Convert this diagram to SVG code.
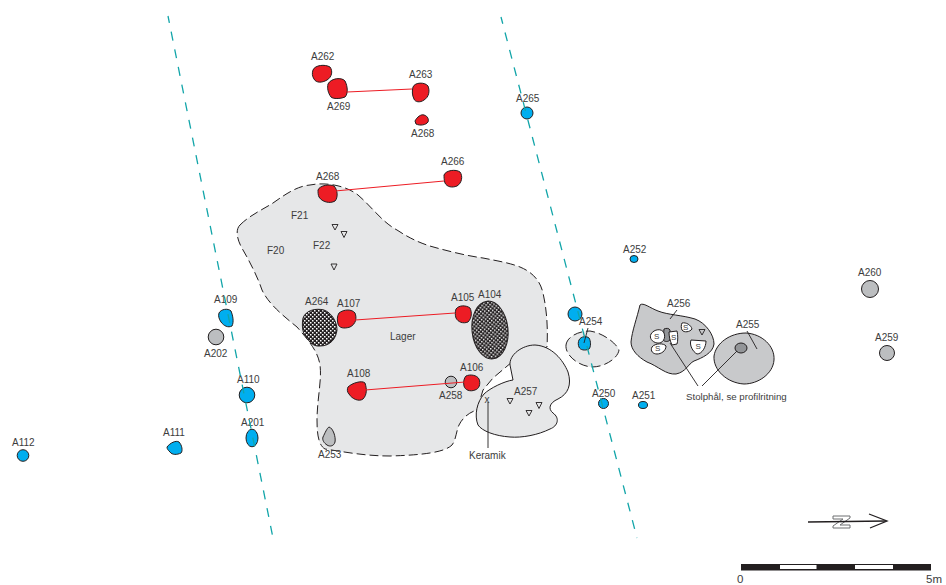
<svg xmlns="http://www.w3.org/2000/svg" width="946" height="585" viewBox="0 0 946 585">
<style>
text{font-family:"Liberation Sans",Arial,sans-serif;font-size:10px;fill:#3c3c3c}
.b{stroke:#231f20;stroke-width:1}
.red{fill:#ed1c24}
.blue{fill:#00aeef}
.grey{fill:#bcbec0}
.mid{fill:#c8c9cb}
.pale{fill:#e6e7e8}
.hatch{fill:url(#chk)}
.white{fill:#fff}
.ln{fill:none;stroke:#231f20;stroke-width:.9}
.redl{fill:none;stroke:#ed1c24;stroke-width:1}
.teal{fill:none;stroke:#12a5a9;stroke-width:1.300;stroke-dasharray:9 9}
.dash{stroke:#231f20;stroke-width:1;stroke-dasharray:9 4}
</style>
<defs>
<pattern id="chk" width="4" height="4" patternUnits="userSpaceOnUse">
<rect width="4" height="4" fill="#231f20"/><rect width="1.500" height="1.500" fill="#fff"/><rect x="2" y="2" width="1.500" height="1.500" fill="#fff"/>
</pattern>
</defs>
<rect width="946" height="585" fill="#fff"/>

<g id="lager">
<path class="pale dash" d="M240 225C250 215 262 210 273 203C287 193 298 186 310 185C325 182 345 185 358 195C372 207 382 222 397 230C412 240 425 245 437 248C452 252 468 256 483 258C498 261 510 263 520 267C532 272 540 280 543 293C547 310 548 330 547 347L512 362L493 378L483 390L477 410C470 412 463 417 459 425C456 432 456 440 452 445C445 452 425 455 390 456C365 456 345 452 325 449C318 445 317 432 317 420C317 400 322 380 320 365C318 352 310 342 297 327C282 315 268 303 262 290C258 278 250 262 243 250C237 240 235 230 240 225Z"/>
<text x="390" y="340">Lager</text>
<text x="291" y="219">F21</text>
<text x="313" y="249">F22</text>
<text x="267" y="254">F20</text>
<path class="white ln" d="M332 224.500h6l-3 5.500zM341 231.500h6l-3 6zM331 264h6l-3 6z"/>
</g>

<g id="A257">
<path class="pale b" d="M510 365C509 355 522 345 535 345C552 346 563 360 568 372C572 385 568 394 558 399C549 403 548 409 553 413C560 418 558 426 550 429C538 435 522 438 510 437C495 436 482 431 478 425C474 415 477 402 484 394C490 388 505 381 513 380Z"/>
<text x="514" y="395">A257</text>
<path class="white ln" d="M507 398.500h6l-3 5.500zM536 402.500h6l-3 6zM526 410.500h6l-3 5.500z"/>
<text x="484.500" y="403">x</text>
<path class="ln" d="M488 402V448"/>
<text x="469" y="459">Keramik</text>
</g>

<g id="A254">
<path class="pale dash" d="M566 345C567 337 578 331 590 331C603 333 616 343 619 350C618 358 605 367 592 367C578 366 565 355 566 345Z"/>
<path class="blue b" d="M579 340C581 336 587 336 589 338C591 341 591 347 589 349C585 351 580 350 579 347C578 345 578 342 579 340Z"/>
<text x="579" y="325">A254</text>
<path class="ln" d="M588 328L584 343"/>
</g>

<g id="A256">
<path class="mid b" d="M640 305C643 302 650 308 658 311C668 315 682 315 695 319C706 323 714 335 714 344C713 353 702 358 694 361C688 364 686 372 676 374C666 375 658 366 647 362C638 357 631 350 631 342C632 331 637 318 640 305Z"/>
<text x="667" y="307">A256</text>
<path class="ln" d="M677 310L670 319"/>
<path fill="#939598" class="b" d="M664 329C666 328 669 328 670 330L670 340C668 342 665 342 663 340Z"/>
<path class="white b" d="M651 334C654 329 662 328 664 333C666 338 663 344 657 343C652 342 649 338 651 334Z"/>
<path class="white b" d="M652 347C655 343 664 343 666 346C666 351 661 354 657 354C653 354 650 351 652 347Z"/>
<path class="white b" d="M669 332L677 331C678 335 678 341 677 344L672 345C670 341 669 336 669 332Z"/>
<path class="white b" d="M682 323C686 322 691 325 692 329C690 332 684 333 682 330C681 328 681 325 682 323Z"/>
<path class="white b" d="M691 340L706 341C706 347 702 354 697 354C693 352 689 345 691 340Z"/>
<path class="white ln" d="M699 329.500h6l-3 5.500z"/>
<text x="654" y="339" style="font-size:8px">S</text>
<text x="655" y="351" style="font-size:8px">S</text>
<text x="671" y="340" style="font-size:8px">S</text>
<text x="683" y="330" style="font-size:8px">S</text>
<text x="695.500" y="349" style="font-size:8px">S</text>
</g>

<g id="A255">
<path class="mid b" d="M714 356C716 343 730 333 746 333C762 334 775 346 774 360C773 374 758 384 744 384C727 383 713 370 714 356Z"/>
<ellipse cx="741" cy="348" rx="6" ry="5" fill="#939598" class="b"/>
<text x="736" y="328">A255</text>
<path class="ln" d="M747 331L757 349"/>
</g>

<g id="stolphal">
<path class="ln" d="M698 386L670 343M702 386L737 351"/>
<text x="686" y="400" style="font-size:9.700px">Stolphål, se profilritning</text>
</g>

<g id="A262"><path class="red b" d="M313 70C315 65 325 64 330 67C333 71 332 77 327 80C322 83 316 83 314 79C312 76 312 73 313 70Z"/><text x="311" y="60">A262</text></g>
<g id="A269"><path class="red b" d="M328 84C331 78 342 77 345 81C348 87 348 94 345 97C340 99 333 99 331 97C328 93 327 88 328 84Z"/><text x="327" y="110">A269</text></g>
<g id="A263"><path class="red b" d="M413 87C415 82 425 82 428 86C430 91 429 97 424 100C420 103 415 102 414 99C412 95 412 91 413 87Z"/><text x="409" y="78">A263</text></g>
<g id="A268b"><path class="red b" d="M415 121C417 117 421 114 424 115C428 116 429 120 428 122C426 125 420 126 416 124Z"/><text x="411" y="137">A268</text></g>
<g id="A268a"><path class="red b" d="M318 190C320 185 330 184 334 186C338 190 338 198 335 201C330 204 322 202 319 197C318 195 318 192 318 190Z"/><text x="316" y="180">A268</text></g>
<g id="A266"><path class="red b" d="M444 175C446 170 456 169 460 172C463 176 462 183 457 186C452 188 447 187 445 183C444 180 444 177 444 175Z"/><text x="441" y="165">A266</text></g>
<g id="A264"><path class="hatch b" d="M303 318C306 310 316 308 324 310C332 313 337 322 337 330C336 339 330 346 320 346C312 347 308 340 304 334C302 329 302 323 303 318Z"/><text x="305" y="305">A264</text></g>
<g id="A107"><path class="red b" d="M339 313C344 309 352 309 355 313C357 318 356 324 350 327C344 329 339 328 338 324C337 320 337 316 339 313Z"/><text x="337" y="307">A107</text></g>
<g id="A105"><path class="red b" d="M456 309C459 305 466 305 470 308C472 312 472 318 468 322C463 324 458 322 456 318C455 315 455 312 456 309Z"/><text x="451" y="301">A105</text></g>
<g id="A104"><ellipse class="hatch b" cx="490" cy="330" rx="18" ry="29" transform="rotate(-6 490 330)"/><text x="478" y="298">A104</text></g>
<g id="A108"><path class="red b" d="M348 387C352 383 362 380 365 383C367 389 367 395 363 399C359 402 352 399 349 394C347 392 347 389 348 387Z"/><text x="347" y="377">A108</text></g>
<g id="A106"><path class="red b" d="M466 376C470 374 477 375 479 379C481 384 479 389 475 390C470 392 465 390 464 386C463 382 464 378 466 376Z"/><text x="460" y="371">A106</text></g>
<g id="A258"><circle class="grey b" cx="451" cy="382" r="5.800"/><text x="439" y="399">A258</text></g>
<g id="A253"><path class="grey b" d="M329 427C333 428 336 437 335 442C334 446 330 447 327 445C324 443 322 440 323 437C325 433 327 428 329 427Z"/><text x="318" y="458">A253</text></g>

<g id="A109"><path class="blue b" d="M219 313C221 309 228 308 231 311C233 316 234 322 232 326C228 328 224 326 221 322C219 319 218 316 219 313Z"/><text x="214" y="303">A109</text></g>
<g id="A202"><circle class="grey b" cx="216" cy="337" r="7.800"/><text x="204" y="357">A202</text></g>
<g id="A110"><circle class="blue b" cx="247" cy="395" r="7.800"/><text x="237" y="383">A110</text></g>
<g id="A201"><ellipse class="blue b" cx="252" cy="438" rx="6" ry="8.800"/><text x="241" y="426">A201</text></g>
<g id="A111"><path class="blue b" d="M167 447C170 443 176 440 179 442C182 445 183 451 181 453C177 455 172 455 170 452C168 450 167 449 167 447Z"/><text x="163" y="436">A111</text></g>
<g id="A112"><circle class="blue b" cx="23" cy="455.500" r="5.800"/><text x="12" y="446">A112</text></g>
<g id="A265"><circle class="blue b" cx="527" cy="113" r="6"/><text x="516" y="102">A265</text></g>
<g id="A252"><ellipse class="blue b" cx="634" cy="259" rx="4" ry="3.500"/><text x="623" y="253">A252</text></g>
<g id="A260"><circle class="grey b" cx="870" cy="289" r="8.500"/><text x="858" y="276">A260</text></g>
<g id="A259"><circle class="grey b" cx="887" cy="353" r="7.500"/><text x="875" y="341">A259</text></g>
<g id="Ablue"><circle class="blue b" cx="575" cy="314" r="7"/></g>
<g id="A250"><circle class="blue b" cx="603.500" cy="403.500" r="5"/><text x="592" y="397">A250</text></g>
<g id="A251"><ellipse class="blue b" cx="643" cy="405" rx="4.500" ry="3.500"/><text x="632" y="399">A251</text></g>

<g id="connectors">
<path class="redl" d="M347 92L412 89M335 191L444 181M355 320L455 313M365 390L465 382"/>
<path class="teal" d="M168 16L273 538M501 17L637 538" stroke-dashoffset="2"/>
</g>

<g id="north">
<path fill="none" stroke="#231f20" stroke-width="1.300" d="M869 514L887 521L870 528"/>
<path fill="#fff" stroke="#6d6e71" stroke-width="1" d="M833 516H850V518L840 525H850V528H833V526L843 519H833Z"/>
<path stroke="#231f20" stroke-width="1.300" d="M808 522L886 521"/>
</g>

<g id="scale">
<rect x="741" y="564" width="190" height="6.500" fill="#231f20"/>
<rect x="780" y="565" width="36.500" height="4" fill="#fff"/>
<rect x="855" y="565" width="38" height="4" fill="#fff"/>
<text x="737" y="583" style="font-size:11.500px">0</text>
<text x="926" y="583" style="font-size:11.500px">5m</text>
</g>
</svg>
